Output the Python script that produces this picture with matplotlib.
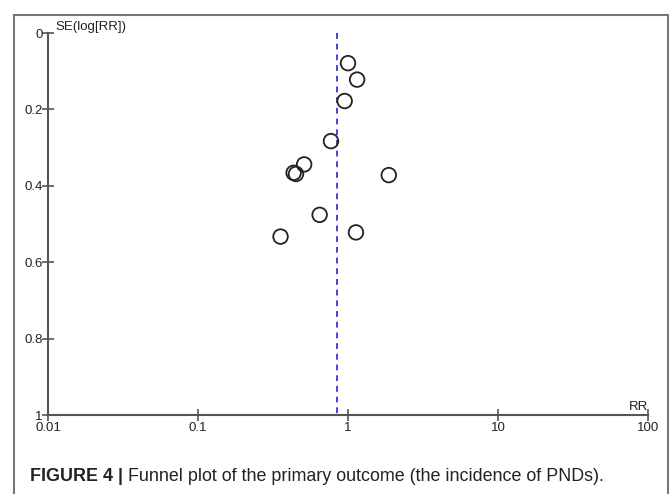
import numpy as np
import matplotlib.pyplot as plt
from matplotlib.patches import Rectangle

plt.rcParams['font.family'] = ['Liberation Sans', 'DejaVu Sans']

# study estimates
rr = [1.00, 1.15, 0.95, 0.77, 0.51, 0.434, 0.45, 1.87, 0.647, 1.13, 0.355]
se = [0.079, 0.122, 0.178, 0.283, 0.344, 0.366, 0.369, 0.372, 0.476, 0.522, 0.533]
pooled_rr = 0.845
x_ticks = [0.01, 0.1, 1, 10, 100]
x_labels = ['0.01', '0.1', '1', '10', '100']
y_ticks = [0, 0.2, 0.4, 0.6, 0.8, 1]
y_labels = ['0', '0.2', '0.4', '0.6', '0.8', '1']

fig = plt.figure(figsize=(6.69, 4.94), dpi=100)
ax = fig.add_axes([48/669, 1-415/494, 600/669, 382/494])

ax.scatter(rr, se, s=110, facecolors='none', edgecolors='#222222', linewidths=1.3, zorder=3)
ax.plot([pooled_rr, pooled_rr], [0, 1], color='#4444dd', ls=(0, (3, 2.5)), lw=1.4)

ax.set_xscale('log')
ax.set_xlim(0.01, 100)
ax.set_ylim(1, 0)
ax.set_xticks(x_ticks)
ax.set_xticklabels(x_labels)
ax.minorticks_off()
ax.set_yticks(y_ticks)
ax.set_yticklabels(y_labels)

for s in ['top', 'right']:
    ax.spines[s].set_visible(False)
for s in ['left', 'bottom']:
    ax.spines[s].set_color('#555555')
    ax.spines[s].set_linewidth(1.5)
ax.tick_params(direction='inout', length=8, width=1.2, color='#555555',
               labelsize=9.5, labelcolor='#222222', pad=0)
ax.tick_params(axis='x', pad=1)

ax.text(0.012, 1.0, 'SE(log[RR])', transform=ax.transAxes, fontsize=9.5,
        ha='left', va='bottom', color='#222222')
ax.text(1.0, 0.005, 'RR', transform=ax.transAxes, fontsize=9.5,
        ha='right', va='bottom', color='#222222')

# frame around figure + caption
fig.patches.append(Rectangle((14/669, -0.05), 654/669, 1.05 - 15/494,
                             transform=fig.transFigure, fill=False,
                             edgecolor='#777777', lw=1.5))
cap_y = 1 - 476/494
t1 = fig.text(30/669, cap_y, 'FIGURE 4 |', fontsize=12.9, fontweight='bold',
              va='center', ha='left', color='#222222')
fig.canvas.draw()
bb = t1.get_window_extent(fig.canvas.get_renderer())
fig.text(bb.x1 / 669 + 5/669, cap_y,
         'Funnel plot of the primary outcome (the incidence of PNDs).',
         fontsize=12.9, va='center', ha='left', color='#222222')

fig.savefig('out.png', dpi=100)
